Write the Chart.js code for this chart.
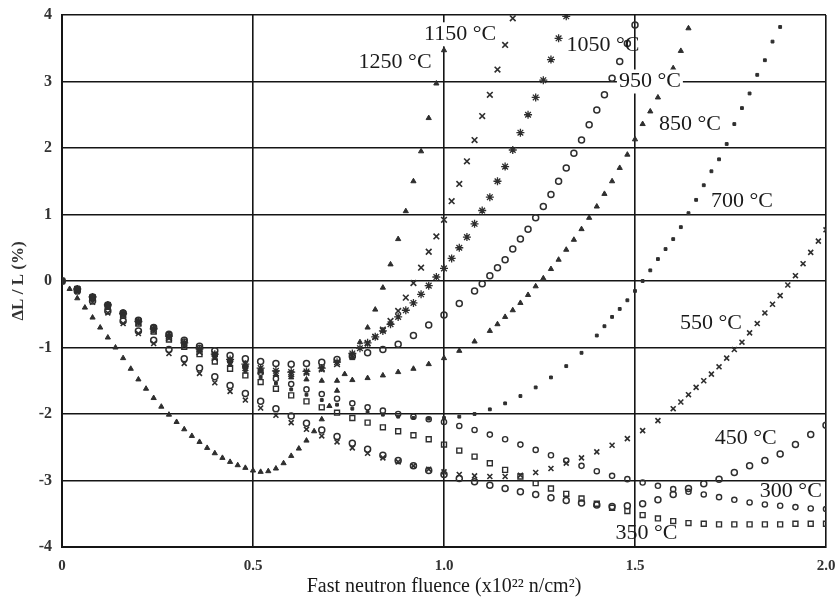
<!DOCTYPE html>
<html>
<head>
<meta charset="utf-8">
<script src="https://cdn.jsdelivr.net/npm/chart.js@4/dist/chart.umd.min.js"></script>
<style>
html,body{margin:0;padding:0;background:#fff;}
#wrap{width:836px;height:606px;position:relative;}
</style>
</head>
<body>
<div id="wrap"><canvas id="c" width="836" height="606"></canvas></div>
<script>
// ---- data (fluence x10^22 n/cm², ΔL/L %) ----
const fluenceTicks = ['0','0.5','1.0','1.5','2.0'];
const strainTicks = ['-4','-3','-2','-1','0','1','2','3','4'];

const t1250 = [[0,0],[0.02,-0.12],[0.04,-0.26],[0.06,-0.40],[0.08,-0.55],[0.10,-0.70],[0.12,-0.85],[0.14,-1.00],[0.16,-1.16],[0.18,-1.32],[0.20,-1.48],[0.22,-1.62],[0.24,-1.76],[0.26,-1.89],[0.28,-2.01],[0.30,-2.12],[0.32,-2.23],[0.34,-2.33],[0.36,-2.42],[0.38,-2.51],[0.40,-2.59],[0.42,-2.66],[0.44,-2.72],[0.46,-2.77],[0.48,-2.81],[0.50,-2.85],[0.52,-2.87],[0.54,-2.86],[0.56,-2.82],[0.58,-2.74],[0.60,-2.63],[0.62,-2.52],[0.64,-2.40],[0.66,-2.26],[0.68,-2.08],[0.70,-1.88],[0.72,-1.65],[0.74,-1.40],[0.76,-1.16],[0.78,-0.92],[0.80,-0.70],[0.82,-0.43],[0.84,-0.10],[0.86,0.25],[0.88,0.63],[0.90,1.05],[0.92,1.50],[0.94,1.95],[0.96,2.45],[0.98,2.97],[1.00,3.47]];

const t1150 = [[0,0],[0.04,-0.12],[0.08,-0.25],[0.12,-0.38],[0.16,-0.51],[0.20,-0.63],[0.24,-0.75],[0.28,-0.86],[0.32,-0.97],[0.36,-1.07],[0.40,-1.16],[0.44,-1.24],[0.48,-1.31],[0.52,-1.36],[0.56,-1.39],[0.60,-1.40],[0.64,-1.38],[0.68,-1.33],[0.72,-1.25],[0.76,-1.12],[0.80,-0.94],[0.82,-0.84],[0.84,-0.73],[0.86,-0.60],[0.88,-0.45],[0.90,-0.25],[0.92,-0.03],[0.94,0.20],[0.96,0.44],[0.98,0.67],[1.00,0.92],[1.02,1.20],[1.04,1.46],[1.06,1.80],[1.08,2.12],[1.10,2.48],[1.12,2.80],[1.14,3.18],[1.16,3.55],[1.18,3.95]];

const t1050 = [[0,0],[0.04,-0.12],[0.08,-0.24],[0.12,-0.36],[0.16,-0.49],[0.20,-0.61],[0.24,-0.72],[0.28,-0.83],[0.32,-0.93],[0.36,-1.02],[0.40,-1.10],[0.44,-1.18],[0.48,-1.25],[0.52,-1.31],[0.56,-1.35],[0.60,-1.37],[0.64,-1.36],[0.68,-1.31],[0.72,-1.22],[0.76,-1.09],[0.78,-1.01],[0.80,-0.93],[0.82,-0.84],[0.84,-0.75],[0.86,-0.65],[0.88,-0.54],[0.90,-0.44],[0.92,-0.33],[0.94,-0.20],[0.96,-0.07],[0.98,0.06],[1.00,0.19],[1.02,0.34],[1.04,0.50],[1.06,0.66],[1.08,0.86],[1.10,1.06],[1.12,1.26],[1.14,1.50],[1.16,1.72],[1.18,1.97],[1.20,2.23],[1.22,2.50],[1.24,2.76],[1.26,3.02],[1.28,3.33],[1.30,3.65],[1.32,3.98]];

const t950 = [[0,0],[0.04,-0.12],[0.08,-0.24],[0.12,-0.36],[0.16,-0.48],[0.20,-0.59],[0.24,-0.70],[0.28,-0.80],[0.32,-0.89],[0.36,-0.98],[0.40,-1.05],[0.44,-1.12],[0.48,-1.17],[0.52,-1.21],[0.56,-1.24],[0.60,-1.25],[0.64,-1.24],[0.68,-1.22],[0.72,-1.18],[0.76,-1.13],[0.80,-1.08],[0.84,-1.03],[0.88,-0.95],[0.92,-0.82],[0.96,-0.66],[1.00,-0.51],[1.04,-0.34],[1.08,-0.15],[1.10,-0.04],[1.12,0.08],[1.14,0.20],[1.16,0.32],[1.18,0.48],[1.20,0.63],[1.22,0.78],[1.24,0.95],[1.26,1.12],[1.28,1.30],[1.30,1.50],[1.32,1.70],[1.34,1.92],[1.36,2.12],[1.38,2.35],[1.40,2.57],[1.42,2.80],[1.44,3.05],[1.46,3.30],[1.48,3.57],[1.50,3.85]];

const t850 = [[0,0],[0.04,-0.12],[0.08,-0.24],[0.12,-0.36],[0.16,-0.48],[0.20,-0.60],[0.24,-0.71],[0.28,-0.82],[0.32,-0.93],[0.36,-1.03],[0.40,-1.12],[0.44,-1.21],[0.48,-1.29],[0.52,-1.36],[0.56,-1.41],[0.60,-1.45],[0.64,-1.48],[0.68,-1.50],[0.72,-1.50],[0.76,-1.49],[0.80,-1.46],[0.84,-1.42],[0.88,-1.37],[0.92,-1.32],[0.96,-1.25],[1.00,-1.16],[1.04,-1.05],[1.08,-0.91],[1.12,-0.75],[1.14,-0.65],[1.16,-0.54],[1.18,-0.44],[1.20,-0.33],[1.22,-0.21],[1.24,-0.08],[1.26,0.04],[1.28,0.18],[1.30,0.32],[1.32,0.47],[1.34,0.62],[1.36,0.78],[1.38,0.95],[1.40,1.12],[1.42,1.31],[1.44,1.50],[1.46,1.70],[1.48,1.90],[1.50,2.13],[1.52,2.36],[1.54,2.55],[1.56,2.76],[1.58,2.98],[1.60,3.20],[1.62,3.46],[1.64,3.80]];

const t700 = [[0,0],[0.04,-0.12],[0.08,-0.25],[0.12,-0.38],[0.16,-0.50],[0.20,-0.62],[0.24,-0.73],[0.28,-0.84],[0.32,-0.95],[0.36,-1.06],[0.40,-1.16],[0.44,-1.26],[0.48,-1.36],[0.52,-1.45],[0.56,-1.54],[0.60,-1.63],[0.64,-1.71],[0.68,-1.79],[0.72,-1.86],[0.76,-1.92],[0.80,-1.97],[0.84,-2.01],[0.88,-2.04],[0.92,-2.06],[0.96,-2.07],[1.00,-2.06],[1.04,-2.04],[1.08,-2.00],[1.12,-1.93],[1.16,-1.84],[1.20,-1.73],[1.24,-1.60],[1.28,-1.45],[1.32,-1.28],[1.36,-1.08],[1.40,-0.82],[1.42,-0.68],[1.44,-0.54],[1.46,-0.42],[1.48,-0.29],[1.50,-0.15],[1.52,0.00],[1.54,0.16],[1.56,0.33],[1.58,0.48],[1.60,0.63],[1.62,0.81],[1.64,1.02],[1.66,1.22],[1.68,1.44],[1.70,1.65],[1.72,1.83],[1.74,2.06],[1.76,2.36],[1.78,2.60],[1.80,2.82],[1.82,3.10],[1.84,3.32],[1.86,3.60],[1.88,3.82]];

const t550 = [[0,0],[0.04,-0.16],[0.08,-0.32],[0.12,-0.48],[0.16,-0.64],[0.20,-0.79],[0.24,-0.94],[0.28,-1.09],[0.32,-1.24],[0.36,-1.39],[0.40,-1.53],[0.44,-1.66],[0.48,-1.79],[0.52,-1.91],[0.56,-2.02],[0.60,-2.13],[0.64,-2.23],[0.68,-2.33],[0.72,-2.42],[0.76,-2.51],[0.80,-2.59],[0.84,-2.66],[0.88,-2.72],[0.92,-2.78],[0.96,-2.83],[1.00,-2.87],[1.04,-2.91],[1.08,-2.93],[1.12,-2.94],[1.16,-2.94],[1.20,-2.92],[1.24,-2.88],[1.28,-2.82],[1.32,-2.74],[1.36,-2.66],[1.40,-2.57],[1.44,-2.47],[1.48,-2.37],[1.52,-2.25],[1.56,-2.10],[1.60,-1.92],[1.62,-1.82],[1.64,-1.71],[1.66,-1.60],[1.68,-1.50],[1.70,-1.40],[1.72,-1.29],[1.74,-1.16],[1.76,-1.03],[1.78,-0.92],[1.80,-0.78],[1.82,-0.64],[1.84,-0.48],[1.86,-0.35],[1.88,-0.22],[1.90,-0.06],[1.92,0.08],[1.94,0.26],[1.96,0.43],[1.98,0.60],[2.00,0.77]];

const t450 = [[0,0],[0.04,-0.15],[0.08,-0.30],[0.12,-0.45],[0.16,-0.60],[0.20,-0.75],[0.24,-0.89],[0.28,-1.03],[0.32,-1.17],[0.36,-1.31],[0.40,-1.44],[0.44,-1.57],[0.48,-1.69],[0.52,-1.81],[0.56,-1.92],[0.60,-2.03],[0.64,-2.14],[0.68,-2.24],[0.72,-2.34],[0.76,-2.44],[0.80,-2.53],[0.84,-2.62],[0.88,-2.70],[0.92,-2.78],[0.96,-2.85],[1.00,-2.91],[1.04,-2.97],[1.08,-3.02],[1.12,-3.07],[1.16,-3.12],[1.20,-3.17],[1.24,-3.21],[1.28,-3.26],[1.32,-3.30],[1.36,-3.34],[1.40,-3.37],[1.44,-3.39],[1.48,-3.38],[1.52,-3.35],[1.56,-3.29],[1.60,-3.21],[1.64,-3.12],[1.68,-3.05],[1.72,-2.98],[1.76,-2.88],[1.80,-2.78],[1.84,-2.70],[1.88,-2.60],[1.92,-2.46],[1.96,-2.31],[2.00,-2.17]];

const t350 = [[0,0],[0.04,-0.13],[0.08,-0.26],[0.12,-0.39],[0.16,-0.52],[0.20,-0.64],[0.24,-0.76],[0.28,-0.88],[0.32,-0.99],[0.36,-1.10],[0.40,-1.21],[0.44,-1.32],[0.48,-1.42],[0.52,-1.52],[0.56,-1.62],[0.60,-1.72],[0.64,-1.81],[0.68,-1.90],[0.72,-1.98],[0.76,-2.06],[0.80,-2.13],[0.84,-2.20],[0.88,-2.26],[0.92,-2.32],[0.96,-2.38],[1.00,-2.46],[1.04,-2.55],[1.08,-2.64],[1.12,-2.74],[1.16,-2.84],[1.20,-2.94],[1.24,-3.04],[1.28,-3.12],[1.32,-3.20],[1.36,-3.27],[1.40,-3.35],[1.44,-3.41],[1.48,-3.46],[1.52,-3.52],[1.56,-3.57],[1.60,-3.61],[1.64,-3.64],[1.68,-3.65],[1.72,-3.66],[1.76,-3.66],[1.80,-3.66],[1.84,-3.66],[1.88,-3.66],[1.92,-3.65],[1.96,-3.65],[2.00,-3.65]];

const t300 = [[0,0],[0.04,-0.12],[0.08,-0.24],[0.12,-0.36],[0.16,-0.48],[0.20,-0.59],[0.24,-0.70],[0.28,-0.81],[0.32,-0.91],[0.36,-1.01],[0.40,-1.11],[0.44,-1.20],[0.48,-1.29],[0.52,-1.38],[0.56,-1.47],[0.60,-1.55],[0.64,-1.63],[0.68,-1.70],[0.72,-1.77],[0.76,-1.84],[0.80,-1.90],[0.84,-1.95],[0.88,-2.00],[0.92,-2.04],[0.96,-2.08],[1.00,-2.12],[1.04,-2.18],[1.08,-2.24],[1.12,-2.31],[1.16,-2.38],[1.20,-2.46],[1.24,-2.54],[1.28,-2.62],[1.32,-2.70],[1.36,-2.78],[1.40,-2.86],[1.44,-2.93],[1.48,-2.98],[1.52,-3.03],[1.56,-3.08],[1.60,-3.13],[1.64,-3.17],[1.68,-3.21],[1.72,-3.25],[1.76,-3.29],[1.80,-3.33],[1.84,-3.36],[1.88,-3.38],[1.92,-3.40],[1.96,-3.42],[2.00,-3.43]];

// curve labels (text, anchored in data coordinates)
const labelText = ['1150 °C','1250 °C','1050 °C','950 °C','850 °C','700 °C','550 °C','450 °C','300 °C','350 °C'];
const labelFluence = [1.042,0.872,1.416,1.539,1.644,1.78,1.699,1.79,1.908,1.53];
const labelStrain = [3.71,3.29,3.55,3.0,2.36,1.2,-0.63,-2.36,-3.16,-3.79];
const labelMasked = [true,false,false,true,false,false,false,false,false,false];

// ---- chart ----
const ink = '#2e2e2e';
function pts(a){ return a.map(p => ({x:p[0], y:p[1]})); }
function ds(label, arr, style, r, filled, bw){
  return {label, data: pts(arr), showLine:false, pointStyle:style, pointRadius:r,
    pointBorderColor:ink, pointBackgroundColor: filled ? ink : 'rgba(255,255,255,0)',
    pointBorderWidth: bw, pointHoverRadius:r};
}

const labelPlugin = {
  id:'curveLabels',
  afterDatasetsDraw(chart){
    const {ctx, scales:{x, y}} = chart;
    ctx.save();
    ctx.font = '22px "Liberation Serif", "Times New Roman", serif';
    ctx.textAlign = 'center';
    ctx.textBaseline = 'middle';
    labelText.forEach((t,i) => {
      const px = x.getPixelForValue(labelFluence[i]);
      const py = y.getPixelForValue(labelStrain[i]);
      if (labelMasked[i]) {
        const w = ctx.measureText(t).width;
        ctx.fillStyle = '#fff';
        ctx.fillRect(px - w/2 - 2, py - 12, w + 4, 24);
      }
      ctx.fillStyle = '#1a1a1a';
      ctx.fillText(t, px, py);
    });
    ctx.restore();
  }
};

new Chart(document.getElementById('c'), {
  type:'scatter',
  data:{ datasets:[
    ds('1250 °C', t1250, 'triangle', 3, true, 1),
    ds('1150 °C', t1150, 'crossRot', 4, false, 1.6),
    ds('1050 °C', t1050, 'star', 4, false, 1.3),
    ds('950 °C', t950, 'circle', 3, false, 1.5),
    ds('850 °C', t850, 'triangle', 3, true, 1),
    ds('700 °C', t700, 'rect', 2, true, 1),
    ds('550 °C', t550, 'crossRot', 3.5, false, 1.6),
    ds('450 °C', t450, 'circle', 3, false, 1.5),
    ds('350 °C', t350, 'rect', 3.5, false, 1.4),
    ds('300 °C', t300, 'circle', 2.6, false, 1.4)
  ]},
  options:{
    responsive:false, animation:false,
    layout:{padding:{top:15, right:10, left:0, bottom:0}},
    plugins:{legend:{display:false}, tooltip:{enabled:false}},
    scales:{
      x:{type:'linear', min:0, max:2,
        afterFit(s){ s.height = 59; s.paddingLeft = 0; s.paddingRight = 0; },
        grid:{color:'#151515', lineWidth:1.6, drawTicks:false},
        border:{display:true, color:'#151515', width:2},
        ticks:{stepSize:0.5, padding:10, color:'#333',
          font:{family:'"Liberation Serif", serif', size:15, weight:'bold'},
          callback:(v,i)=>fluenceTicks[i]},
        title:{display:true, text:'Fast neutron fluence (x10²² n/cm²)', color:'#1a1a1a',
          font:{family:'"Liberation Serif", serif', size:20}, padding:{top:0, bottom:7}}
      },
      y:{type:'linear', min:-4, max:4,
        afterFit(s){ s.width = 62; s.paddingTop = 0; s.paddingBottom = 0; },
        grid:{color:'#151515', lineWidth:1.6, drawTicks:false},
        border:{display:true, color:'#151515', width:2},
        ticks:{stepSize:1, padding:10, color:'#333',
          font:{family:'"Liberation Serif", serif', size:16, weight:'bold'},
          callback:(v,i)=>strainTicks[i]},
        title:{display:true, text:'ΔL / L (%)', color:'#333',
          font:{family:'"Liberation Serif", serif', size:17, weight:'bold'}, padding:{top:8, bottom:0}}
      }
    }
  },
  plugins:[labelPlugin]
});
</script>
</body>
</html>
